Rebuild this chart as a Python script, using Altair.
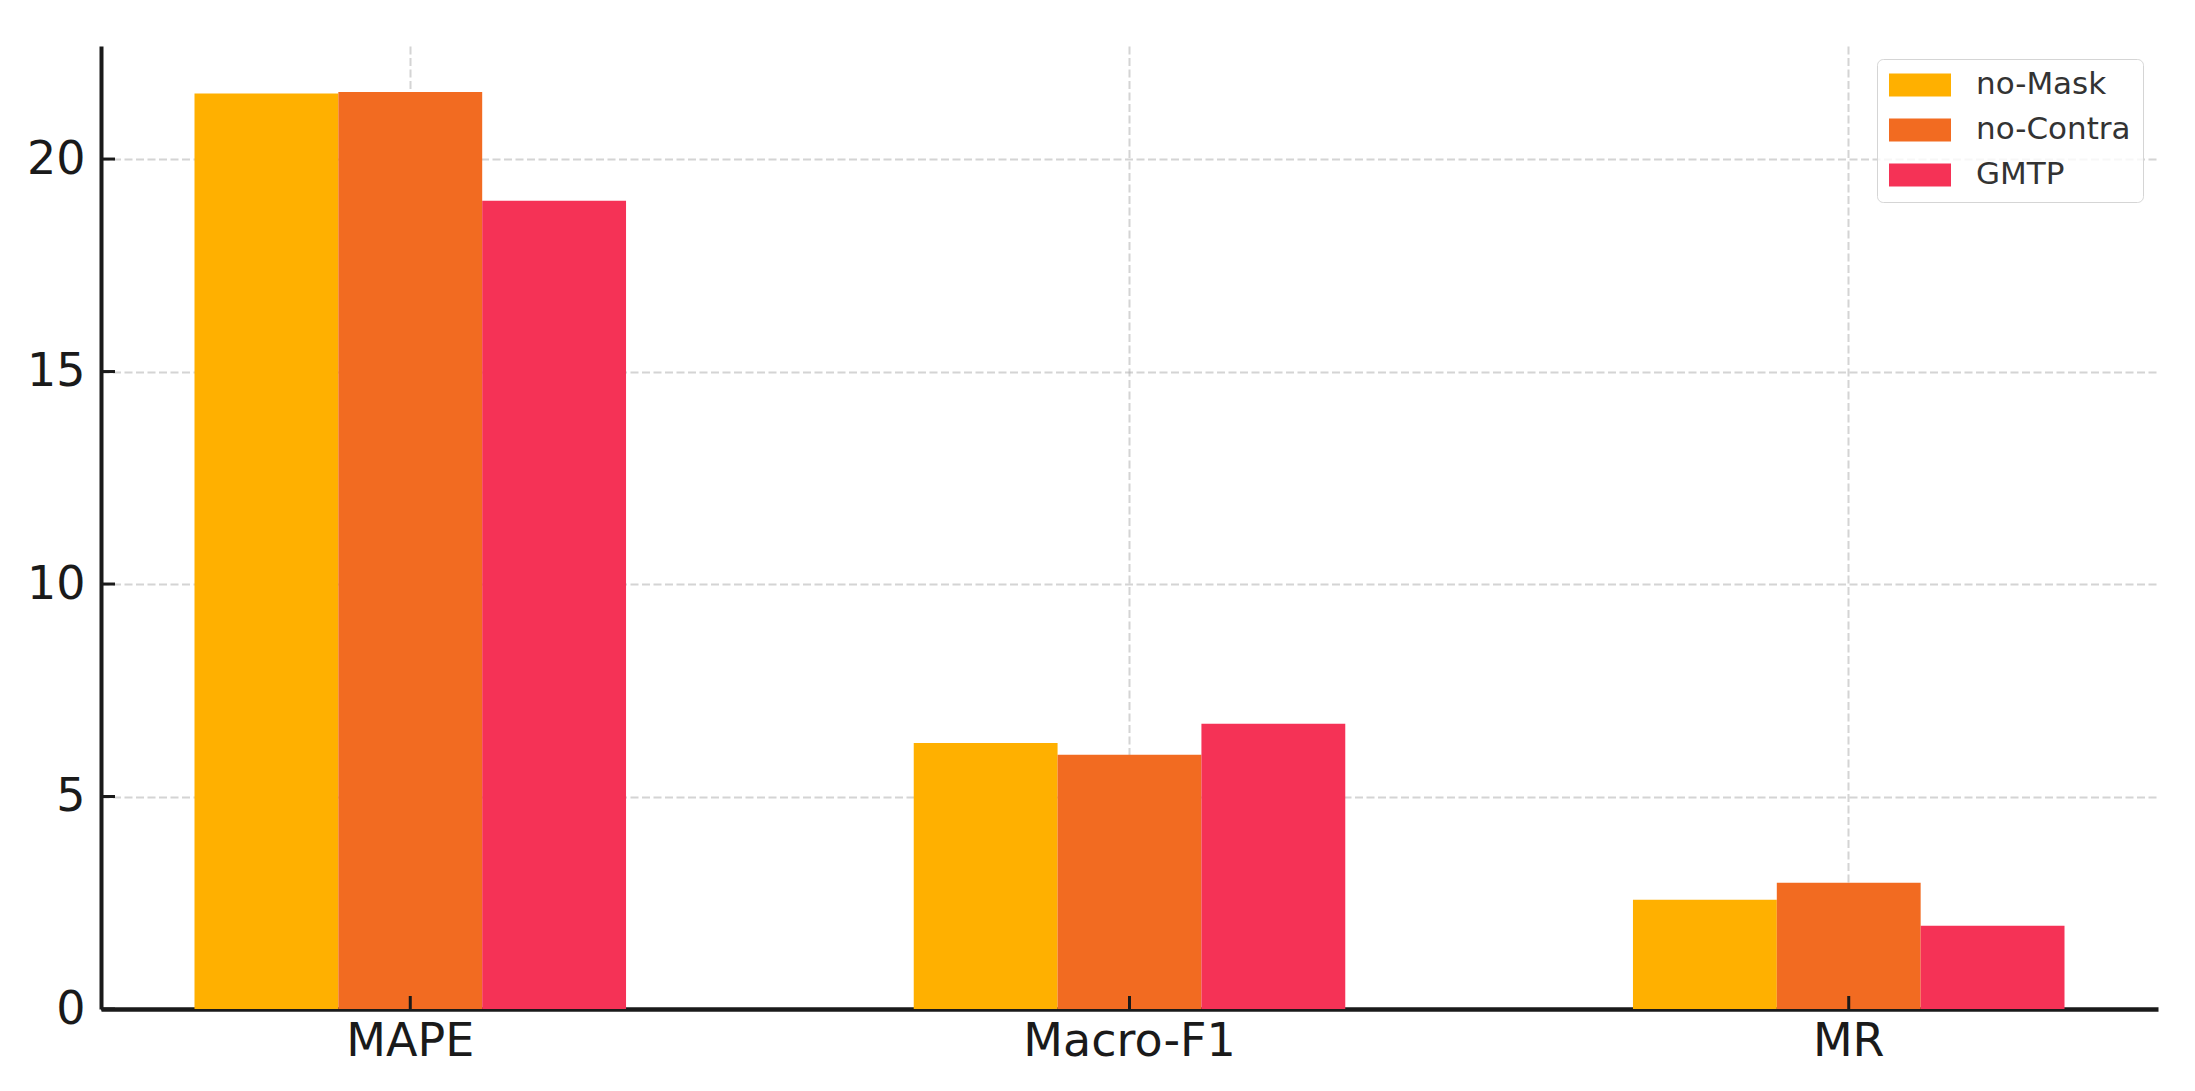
import altair as alt
import pandas as pd

# values
metrics = ["MAPE", "Macro-F1", "MR"]
variants = ["no-Mask", "no-Contra", "GMTP"]
no_mask = [21.54, 6.26, 2.57]
no_contra = [21.58, 5.98, 2.97]
gmtp = [19.02, 6.71, 1.96]
palette = ["#ffb000", "#f26b21", "#f53256"]
y_ticks = [0, 5, 10, 15, 20]

rows = []
for name, series in zip(variants, [no_mask, no_contra, gmtp]):
    for metric, value in zip(metrics, series):
        rows.append({"metric": metric, "variant": name, "value": value})
df = pd.DataFrame(rows)

W, H = 2057, 963
ink = "#1a1a1a"

bars = alt.Chart(df).mark_bar().encode(
    x=alt.X("metric:N", sort=metrics, title=None,
            scale=alt.Scale(paddingInner=0.4, paddingOuter=0.13),
            axis=alt.Axis(labelAngle=0, labelPadding=10, labelLimit=600,
                          bandPosition=0.5, grid=True, domainWidth=4.5)),
    xOffset=alt.XOffset("variant:N", sort=variants,
                        scale=alt.Scale(paddingInner=0, paddingOuter=0)),
    y=alt.Y("value:Q", title=None,
            scale=alt.Scale(domain=[0, 22.66], nice=False),
            axis=alt.Axis(values=y_ticks, labelPadding=16, grid=True, domainWidth=4)),
    color=alt.Color("variant:N", sort=variants,
                    scale=alt.Scale(domain=variants, range=palette),
                    legend=alt.Legend(
                        title=None, orient="none", legendX=1776, legendY=13,
                        symbolType="M-1,-0.371H1V0.371H-1Z",
                        symbolSize=3844, symbolStrokeWidth=0,
                        labelFontSize=31, labelColor="#333333", labelOffset=25,
                        clipHeight=28, padding=12, rowPadding=14,
                        strokeColor="#d5d5d5", cornerRadius=6,
                        fillColor="rgba(255,255,255,0.8)")),
)

# inward ticks, like the matplotlib original
yticks = alt.Chart(pd.DataFrame({"v": y_ticks})).mark_rule(color=ink, strokeWidth=3).encode(
    y=alt.Y("v:Q", title=None), x=alt.value(0), x2=alt.value(14)
)
xticks = alt.Chart(pd.DataFrame({"metric": metrics})).mark_rule(color=ink, strokeWidth=3).encode(
    x=alt.X("metric:N", sort=metrics, title=None), y=alt.value(H), y2=alt.value(H - 13)
)

chart = alt.layer(bars, yticks, xticks).properties(
    width=W, height=H,
    autosize=alt.AutoSizeParams(type="none"),
    padding={"left": 93, "top": 38, "right": 20, "bottom": 60},
).configure(
    font="DejaVu Sans"
).configure_axis(
    domainColor=ink, ticks=False,
    labelFont="DejaVu Sans", labelFontSize=46, labelColor=ink,
    gridColor="#b0b0b0", gridOpacity=0.55, gridWidth=2, gridDash=[8, 3.5],
    zindex=1,
).configure_legend(
    labelFont="DejaVu Sans"
).configure_view(stroke=None)

chart.save("out.html", embed_options={"renderer": "svg", "actions": False})
